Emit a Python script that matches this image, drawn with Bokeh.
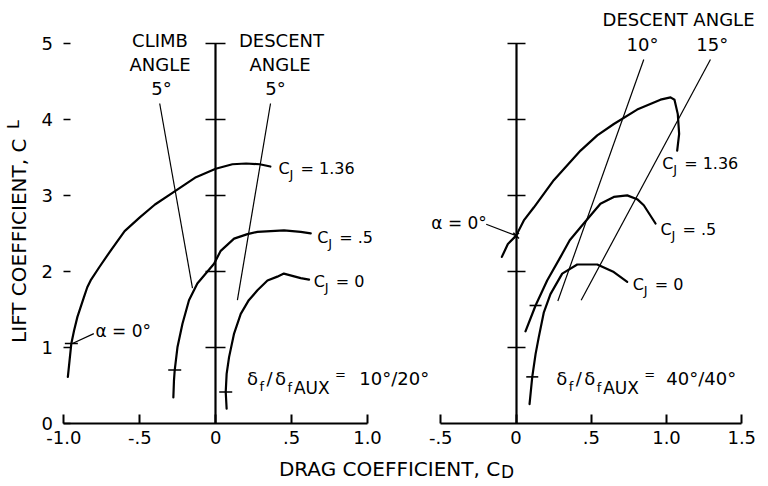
import math
from bokeh.plotting import figure
from bokeh.models import Range1d, LinearAxis, FixedTicker, Label
from bokeh.embed import file_html
from bokeh.resources import INLINE

FONT = "DejaVu Sans"

# ---------------- data ----------------
# Left panel: delta_f / delta_fAUX = 10/20
LEFT_CJ136_CD = [-0.974, -0.963, -0.951, -0.933, -0.911, -0.868, -0.846, -0.824, -0.765, -0.693, -0.60, -0.50, -0.40, -0.28, -0.13, 0.0, 0.11, 0.20, 0.29, 0.36]
LEFT_CJ136_CL = [0.61, 0.82, 1.05, 1.22, 1.40, 1.66, 1.79, 1.88, 2.06, 2.27, 2.53, 2.71, 2.88, 3.04, 3.24, 3.35, 3.41, 3.42, 3.41, 3.38]
LEFT_CJ05_CD = [-0.279, -0.275, -0.270, -0.252, -0.219, -0.176, -0.121, -0.011, 0.033, 0.121, 0.209, 0.275, 0.45, 0.56, 0.626]
LEFT_CJ05_CL = [0.34, 0.56, 0.70, 1.00, 1.31, 1.62, 1.84, 2.10, 2.27, 2.43, 2.49, 2.52, 2.54, 2.52, 2.50]
LEFT_CJ0_CD = [0.072, 0.066, 0.072, 0.088, 0.121, 0.165, 0.218, 0.275, 0.341, 0.406, 0.449, 0.56, 0.615]
LEFT_CJ0_CL = [0.19, 0.41, 0.65, 0.87, 1.18, 1.44, 1.62, 1.75, 1.88, 1.93, 1.97, 1.91, 1.89]
LEFT_ALPHA0_CD = [-0.951, -0.270, 0.066]
LEFT_ALPHA0_CL = [1.05, 0.70, 0.41]
LEFT_CLIMB5_CD = [-0.369, -0.153]
LEFT_CLIMB5_CL = [4.21, 1.78]
LEFT_DESC5_CD = [0.361, 0.143]
LEFT_DESC5_CL = [4.21, 1.62]
LEFT_ALPHA_LEADER_CD = [-0.803, -0.944]
LEFT_ALPHA_LEADER_CL = [1.18, 1.05]

# Right panel: delta_f / delta_fAUX = 40/40
RIGHT_CJ136_CD = [-0.094, -0.054, 0.001, 0.052, 0.118, 0.251, 0.429, 0.540, 0.650, 0.805, 0.960, 1.027, 1.053, 1.075, 1.084, 1.071]
RIGHT_CJ136_CL = [2.19, 2.36, 2.47, 2.67, 2.84, 3.20, 3.59, 3.79, 3.94, 4.13, 4.26, 4.29, 4.26, 4.07, 3.81, 3.59]
RIGHT_CJ05_CD = [0.063, 0.130, 0.207, 0.296, 0.357, 0.429, 0.561, 0.650, 0.739, 0.805, 0.849, 0.927]
RIGHT_CJ05_CL = [1.21, 1.55, 1.88, 2.19, 2.41, 2.58, 2.89, 2.98, 3.00, 2.95, 2.87, 2.63]
RIGHT_CJ0_CD = [0.090, 0.108, 0.130, 0.151, 0.185, 0.229, 0.307, 0.407, 0.540, 0.650, 0.739]
RIGHT_CJ0_CL = [0.25, 0.61, 0.91, 1.13, 1.46, 1.70, 1.97, 2.09, 2.09, 1.99, 1.86]
RIGHT_ALPHA0_CD = [0.130, 0.108]
RIGHT_ALPHA0_CL = [1.55, 0.61]
RIGHT_ALPHA0_CROSS_CD = [0.001]
RIGHT_ALPHA0_CROSS_CL = [2.47]
RIGHT_DESC10_CD = [0.849, 0.278]
RIGHT_DESC10_CL = [4.79, 1.61]
RIGHT_DESC15_CD = [1.292, 0.433]
RIGHT_DESC15_CL = [4.79, 1.62]
RIGHT_ALPHA_LEADER_CD = [-0.198, 0.001]
RIGHT_ALPHA_LEADER_CL = [2.62, 2.47]

LEFT_X_TICKS = [-1.0, -0.5, 0.0, 0.5, 1.0]
LEFT_X_LABELS = ["-1.0", "-.5", "0", ".5", "1.0"]
RIGHT_X_TICKS = [-0.5, 0.0, 0.5, 1.0, 1.5]
RIGHT_X_LABELS = ["-.5", "0", ".5", "1.0", "1.5"]
Y_TICKS = [0, 1, 2, 3, 4, 5]

# ---------------- figure ----------------
p = figure(width=768, height=484, title=None,
           x_range=Range1d(-1.4177, 3.6416), y_range=Range1d(-0.8072, 5.5662),
           output_backend="svg", toolbar_location=None,
           x_axis_location=None, y_axis_location=None, min_border=0)
p.extra_x_ranges = {"right": Range1d(-3.4252, 1.6777)}
p.outline_line_color = None
p.xgrid.visible = False
p.ygrid.visible = False
p.background_fill_color = "white"
p.border_fill_color = "white"


def bottom_axis(ticks, labels, rng):
    ax = LinearAxis(ticker=FixedTicker(ticks=ticks, minor_ticks=[]),
                    major_label_overrides=dict(zip(ticks, labels)),
                    bounds=(ticks[0], ticks[-1]), fixed_location=0,
                    x_range_name=rng,
                    axis_line_width=2, axis_line_color="black",
                    major_tick_line_width=2, major_tick_in=9, major_tick_out=0,
                    minor_tick_line_color=None,
                    major_label_text_font=FONT, major_label_text_font_size="18px",
                    major_label_text_color="black", major_label_standoff=8)
    p.add_layout(ax, "below")


def zero_axis(rng, tick_len):
    ax = LinearAxis(ticker=FixedTicker(ticks=Y_TICKS[1:], minor_ticks=[]),
                    bounds=(Y_TICKS[0], Y_TICKS[-1]), fixed_location=0,
                    x_range_name=rng,
                    axis_line_width=2.2, axis_line_color="black",
                    major_tick_line_width=1.6, major_tick_in=tick_len, major_tick_out=tick_len,
                    minor_tick_line_color=None, major_label_text_color=None)
    p.add_layout(ax, "left")


bottom_axis(LEFT_X_TICKS, LEFT_X_LABELS, "default")
bottom_axis(RIGHT_X_TICKS, RIGHT_X_LABELS, "right")
zero_axis("default", 10)
zero_axis("right", 9)

yax = LinearAxis(ticker=FixedTicker(ticks=Y_TICKS, minor_ticks=[]),
                 bounds=(Y_TICKS[0], Y_TICKS[-1]), fixed_location=-1.0,
                 axis_line_color=None, major_tick_line_width=1.5,
                 major_tick_in=7, major_tick_out=0, minor_tick_line_color=None,
                 major_label_text_font=FONT, major_label_text_font_size="18px",
                 major_label_text_color="black", major_label_standoff=11)
p.add_layout(yax, "left")

# ---------------- curves ----------------
for xs, ys, rng in [(LEFT_CJ136_CD, LEFT_CJ136_CL, "default"),
                    (LEFT_CJ05_CD, LEFT_CJ05_CL, "default"),
                    (LEFT_CJ0_CD, LEFT_CJ0_CL, "default"),
                    (RIGHT_CJ136_CD, RIGHT_CJ136_CL, "right"),
                    (RIGHT_CJ05_CD, RIGHT_CJ05_CL, "right"),
                    (RIGHT_CJ0_CD, RIGHT_CJ0_CL, "right")]:
    p.line(xs, ys, x_range_name=rng, line_color="black", line_width=2.2,
           line_join="round", line_cap="round")

for xs, ys, rng in [(LEFT_CLIMB5_CD, LEFT_CLIMB5_CL, "default"),
                    (LEFT_DESC5_CD, LEFT_DESC5_CL, "default"),
                    (LEFT_ALPHA_LEADER_CD, LEFT_ALPHA_LEADER_CL, "default"),
                    (RIGHT_DESC10_CD, RIGHT_DESC10_CL, "right"),
                    (RIGHT_DESC15_CD, RIGHT_DESC15_CL, "right"),
                    (RIGHT_ALPHA_LEADER_CD, RIGHT_ALPHA_LEADER_CL, "right")]:
    p.line(xs, ys, x_range_name=rng, line_color="black", line_width=1.2)

p.scatter(LEFT_ALPHA0_CD, LEFT_ALPHA0_CL, marker="dash", size=13,
          line_color="black", line_width=1.6)
p.scatter(RIGHT_ALPHA0_CD, RIGHT_ALPHA0_CL, x_range_name="right", marker="dash",
          size=12, line_color="black", line_width=1.6)
p.scatter(RIGHT_ALPHA0_CROSS_CD, RIGHT_ALPHA0_CROSS_CL, x_range_name="right",
          marker="x", size=8, line_color="black", line_width=1.6)


# ---------------- texts ----------------
def label(x, y, text, size, rng="default", align="left", baseline="middle",
          dx=0, dy=0, angle=0.0):
    p.add_layout(Label(x=x, y=y, text=text, x_range_name=rng,
                       text_font=FONT, text_font_size=f"{size}px",
                       text_align=align, text_baseline=baseline,
                       text_color="black", x_offset=dx, y_offset=dy,
                       angle=angle))


def cj_label(x, y, val, rng):
    label(x, y, "C", 16, rng)
    label(x, y, "J", 13, rng, dx=11, dy=-6)
    label(x, y, "= " + val, 16, rng, dx=22)


def delta_label(x, y, val_x, val, rng):
    label(x, y, "δ", 18, rng, baseline="alphabetic")
    label(x, y, "f", 13, rng, baseline="alphabetic", dx=12.5, dy=-8)
    label(x, y, "/", 18, rng, baseline="alphabetic", dx=19.5)
    label(x, y, "δ", 18, rng, baseline="alphabetic", dx=28)
    label(x, y, "f", 13, rng, baseline="alphabetic", dx=40.5, dy=-9)
    label(x, y, "AUX", 17, rng, baseline="alphabetic", dx=47, dy=-9)
    label(x, y, "=", 13, rng, baseline="alphabetic", dx=88, dy=4)
    label(val_x, y, val, 18, rng, align="center", baseline="alphabetic")


# left panel angle labels
label(-0.367, 5.04, "CLIMB", 18, align="center")
label(-0.367, 4.73, "ANGLE", 18, align="center")
label(-0.357, 4.41, "5°", 18, align="center")
label(0.433, 5.04, "DESCENT", 18, align="center")
label(0.424, 4.73, "ANGLE", 18, align="center")
label(0.394, 4.41, "5°", 18, align="center")

# right panel angle labels
label(1.080, 5.316, "DESCENT ANGLE", 18, "right", align="center")
label(0.841, 4.99, "10°", 18, "right", align="center")
label(1.304, 4.99, "15°", 18, "right", align="center")

cj_label(0.414, 3.35, "1.36", "default")
cj_label(0.669, 2.45, ".5", "default")
cj_label(0.646, 1.86, "0", "default")
cj_label(0.971, 3.42, "1.36", "right")
cj_label(0.960, 2.55, ".5", "right")
cj_label(0.776, 1.83, "0", "right")

label(-0.792, 1.22, "α = 0°", 17)
label(-0.563, 2.63, "α = 0°", 17, "right")

delta_label(0.206, 0.586, 1.176, "10°/20°", "default")
delta_label(0.267, 0.586, 1.231, "40°/40°", "right")

# axis titles
label(-1.296, 2.403, "LIFT COEFFICIENT, C", 20, align="center", angle=math.pi / 2)
label(-1.332, 3.933, "L", 16, align="center", angle=math.pi / 2)
label(1.145, -0.600, "DRAG COEFFICIENT, C", 20, align="center")
label(1.879, -0.649, "D", 17)

open("out.html", "w").write(file_html(p, INLINE))
